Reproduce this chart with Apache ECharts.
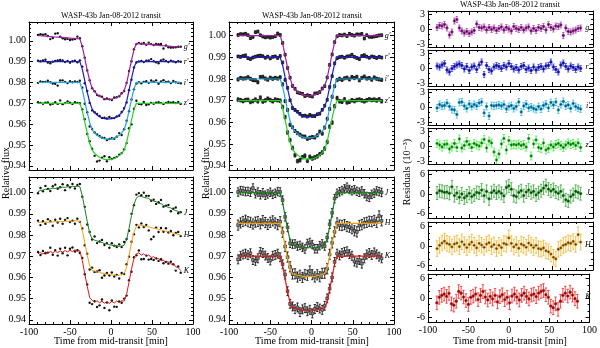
<!DOCTYPE html>
<html>
<head>
<meta charset="utf-8">
<script src="https://cdn.jsdelivr.net/npm/echarts@6/dist/echarts.min.js"></script>
<style>
  html, body { margin: 0; padding: 0; background: #fff; }
  #chart { width: 600px; height: 348px; }
</style>
</head>
<body>
<div id="chart"></div>
<script>
// time from mid-transit [min]
const T = [
  -89, -86, -83, -80, -77, -74, -71, -68, -65, -62,
  -59, -56, -53, -50, -47, -44, -41, -38, -35, -32,
  -29, -26, -23, -20, -17, -14, -11, -8, -5, -2,
  1, 4, 7, 10, 13, 16, 19, 22, 25, 28,
  31, 34, 37, 40, 43, 46, 49, 52, 55, 58,
  61, 64, 67, 70, 73, 76, 79, 82, 85
];

// transit models (relative flux, with offsets)
const gModel = [
  1, 1, 1, 1, 1, 1, 1, 1, 1, 1,
  1, 1, 1, 1, 1, 1, 1, 1, 0.9964, 0.9908,
  0.9853, 0.9803, 0.9769, 0.9753, 0.9741, 0.9733, 0.9728, 0.9723, 0.9722, 0.9722,
  0.9723, 0.9728, 0.9733, 0.9741, 0.9753, 0.9769, 0.9805, 0.9861, 0.9917, 0.9969,
  1, 1, 1, 1, 1, 1, 1, 1, 1, 1,
  1, 1, 1, 1, 1, 1, 1, 1, 1
];
const rModel = [
  0.99, 0.99, 0.99, 0.99, 0.99, 0.99, 0.99, 0.99, 0.99, 0.99,
  0.99, 0.99, 0.99, 0.99, 0.99, 0.99, 0.99, 0.99, 0.9864, 0.9809,
  0.9754, 0.9705, 0.9672, 0.9655, 0.9644, 0.9636, 0.9631, 0.9626, 0.9625, 0.9625,
  0.9626, 0.9631, 0.9636, 0.9644, 0.9655, 0.9672, 0.9707, 0.9763, 0.9818, 0.9870,
  0.99, 0.99, 0.99, 0.99, 0.99, 0.99, 0.99, 0.99, 0.99, 0.99,
  0.99, 0.99, 0.99, 0.99, 0.99, 0.99, 0.99, 0.99, 0.99
];
const iModel = [
  0.98, 0.98, 0.98, 0.98, 0.98, 0.98, 0.98, 0.98, 0.98, 0.98,
  0.98, 0.98, 0.98, 0.98, 0.98, 0.98, 0.98, 0.98, 0.9765, 0.9710,
  0.9656, 0.9607, 0.9574, 0.9558, 0.9547, 0.9539, 0.9533, 0.9529, 0.9528, 0.9528,
  0.9529, 0.9533, 0.9539, 0.9547, 0.9558, 0.9574, 0.9610, 0.9664, 0.9718, 0.9770,
  0.98, 0.98, 0.98, 0.98, 0.98, 0.98, 0.98, 0.98, 0.98, 0.98,
  0.98, 0.98, 0.98, 0.98, 0.98, 0.98, 0.98, 0.98, 0.98
];
const zModel = [
  0.97, 0.97, 0.97, 0.97, 0.97, 0.97, 0.97, 0.97, 0.97, 0.97,
  0.97, 0.97, 0.97, 0.97, 0.97, 0.97, 0.97, 0.97, 0.9665, 0.9611,
  0.9557, 0.9508, 0.9476, 0.9460, 0.9449, 0.9441, 0.9435, 0.9431, 0.9430, 0.9430,
  0.9431, 0.9435, 0.9441, 0.9449, 0.9460, 0.9476, 0.9511, 0.9565, 0.9619, 0.9670,
  0.97, 0.97, 0.97, 0.97, 0.97, 0.97, 0.97, 0.97, 0.97, 0.97,
  0.97, 0.97, 0.97, 0.97, 0.97, 0.97, 0.97, 0.97, 0.97
];
const jModel = [
  1, 1, 1, 1, 1, 1, 1, 1, 1, 1,
  1, 1, 1, 1, 1, 1, 1, 1, 0.9953, 0.9891,
  0.9828, 0.9776, 0.9753, 0.9748, 0.9745, 0.9743, 0.9740, 0.9740, 0.9740, 0.9740,
  0.9740, 0.9740, 0.9743, 0.9745, 0.9748, 0.9753, 0.9782, 0.9839, 0.9901, 0.9964,
  1, 1, 1, 1, 1, 1, 1, 1, 1, 1,
  1, 1, 1, 1, 1, 1, 1, 1, 1
];
const hModel = [
  0.9855, 0.9855, 0.9855, 0.9855, 0.9855, 0.9855, 0.9855, 0.9855, 0.9855, 0.9855,
  0.9855, 0.9855, 0.9855, 0.9855, 0.9855, 0.9855, 0.9855, 0.9855, 0.9810, 0.9750,
  0.9690, 0.9640, 0.9618, 0.9613, 0.9610, 0.9608, 0.9605, 0.9605, 0.9605, 0.9605,
  0.9605, 0.9605, 0.9608, 0.9610, 0.9613, 0.9618, 0.9645, 0.9700, 0.9760, 0.9820,
  0.9855, 0.9855, 0.9855, 0.9855, 0.9855, 0.9855, 0.9855, 0.9855, 0.9855, 0.9855,
  0.9855, 0.9855, 0.9855, 0.9855, 0.9855, 0.9855, 0.9855, 0.9855, 0.9855
];
const kModel = [
  0.97, 0.97, 0.97, 0.97, 0.97, 0.97, 0.97, 0.97, 0.97, 0.97,
  0.97, 0.97, 0.97, 0.97, 0.97, 0.97, 0.97, 0.97, 0.9654, 0.9593,
  0.9532, 0.9481, 0.9458, 0.9453, 0.9450, 0.9448, 0.9445, 0.9445, 0.9445, 0.9445,
  0.9445, 0.9445, 0.9448, 0.9450, 0.9453, 0.9458, 0.9486, 0.9542, 0.9603, 0.9664,
  0.97, 0.97, 0.97, 0.97, 0.97, 0.97, 0.97, 0.97, 0.97, 0.97,
  0.97, 0.97, 0.97, 0.97, 0.97, 0.97, 0.97, 0.97, 0.97
];

// residuals [10^-3]
const gRes = [
  0.3, 0.7, 0.6, 0.9, 0.2, -1.2, -0.6, 1.6, 1.9, 0.2,
  -0.4, -0.8, -0.5, -0.9, -0.6, -0.3, 1.0, 0.3, 0.2, 0.4,
  -0.2, 0.3, -0.1, 0.2, -0.3, 0.1, 0.4, -0.2, 0.3, 0.0,
  -0.4, 0.5, 0.1, -0.1, 0.3, -0.2, 0.2, 0.4, -0.4, 0.1,
  -0.3, 0.3, 0.1, 0.5, -0.2, 0.9, 0.3, 0.0, 0.6, 0.5,
  0.8, -1.3, 0.2, -0.5, -0.6, -0.4, -0.2, 0.1, 0.2
];
const rRes = [
  0.4, 0.2, 0.6, 0.9, -0.4, -0.8, -0.1, 0.3, 0.6, 0.8,
  0.5, -0.2, 0.3, -0.5, 0.2, 0.4, -0.3, 0.6, 1.2, -1.3,
  0.5, -0.3, -0.6, 0.2, 0.5, 0.3, -0.1, 0.5, 0.2, 0.9,
  0.3, -0.2, 0.1, -0.4, 0.3, 0.5, -0.3, 0.0, -0.5, 0.2,
  -0.4, 0.1, 0.3, -0.2, 0.4, 0.5, 1.2, 0.2, -0.3, -0.8,
  0.6, 1.0, 0.3, -0.2, 0.4, 0.1, -0.3, 0.2, -0.1
];
const iRes = [
  -0.2, 0.5, 0.2, 0.3, 0.8, 0.1, -0.5, -0.6, -1.5, 0.9,
  1.0, 0.2, -0.3, 0.6, 0.1, 0.5, 0.2, 0.8, 1.0, -1.2,
  0.1, -1.8, 0.3, 0.2, 0.3, 0.4, 0.2, 0.5, -0.4, 0.1,
  0.3, -0.3, 0.1, 1.0, -1.0, 0.2, 0.6, -0.2, 0.0, -0.3,
  -0.5, 0.1, -0.4, 0.3, 0.6, -0.2, 0.9, 0.4, 1.0, -0.6,
  0.5, 1.1, 0.2, 0.4, -0.3, 0.7, 0.1, -0.2, -0.4
];
const zRes = [
  0.5, 0.2, -0.2, 0.3, 0.4, -0.6, -0.2, 0.5, -0.3, 1.4,
  -0.4, 0.1, 0.9, 0.3, -0.3, 0.5, 0.2, 0.0, 0.6, 1.3,
  -0.4, 1.0, 0.6, -1.2, -2.8, -1.6, 0.4, 1.5, -0.8, 1.1,
  0.2, 0.3, 0.2, 0.4, 0.1, 0.3, -0.2, 1.5, -2.0, 0.4,
  1.2, -0.3, -0.5, 0.6, -0.8, -0.5, 0.2, -0.2, 0.3, 0.5,
  0.1, -0.3, 0.2, 0.6, 0.3, 0.5, 0.1, 0.6, -0.3
];
const jRes = [
  0.3, 1.0, 0.8, 0.5, 0.6, 0.2, 2.2, -0.5, 0.3, -1.0,
  0.0, -1.2, -0.6, 0.2, -0.8, -0.3, 0.5, 0.3, 1.2, -0.5,
  0.8, -1.5, 0.4, 1.0, 0.3, 0.8, 0.2, -0.6, 2.0, 2.5,
  1.5, -0.5, -0.8, 0.5, 1.0, -0.5, 0.6, 1.2, 0.4, 0.8,
  -0.3, 0.4, 1.0, 1.8, 2.6, 1.5, 0.9, 1.4, 0.6, 0.2,
  0.8, -0.5, -1.8, -2.2, -0.8, -0.2, 0.8, 0.5, 0.1
];
const hRes = [
  -0.8, 0.2, 0.9, 1.5, 0.8, 0.5, -0.3, 0.6, 0.9, -0.2,
  1.3, 0.4, -0.5, 0.5, 1.2, 0.2, -0.6, 0.8, 0.3, -0.4,
  0.6, 1.0, -0.2, 0.4, -0.8, 0.2, -0.5, 0.8, 0.5, 2.5,
  0.8, -0.3, 0.4, -0.7, 0.6, 0.2, -0.4, 0.9, 0.3, -0.5,
  0.2, -0.8, -1.0, -0.6, -1.5, -1.8, -2.5, -3.5, -4.0, -1.0,
  -0.6, 0.2, 0.5, 1.0, 0.8, 1.4, 0.5, 3.5, 1.2
];
const kRes = [
  -1.5, 0.2, 0.8, 1.2, 0.5, 1.4, -1.8, -2.2, -1.0, 2.0,
  1.5, 0.3, -0.8, -2.0, 0.2, 0.6, 1.2, -0.5, 0.8, 2.0,
  0.3, -0.6, 0.5, -0.3, 0.8, -1.2, 0.4, 1.0, -0.5, 0.2,
  -1.5, 0.6, 1.2, 0.3, -0.6, 0.8, 1.5, 0.5, -0.3, 0.9,
  1.2, 0.4, 1.5, 2.0, 2.3, 1.0, 0.2, -2.5, -3.0, -1.8,
  -3.5, -1.0, 0.8, 1.5, 0.6, 1.8, 0.9, -0.2, -1.0
];

// raw (undetrended) light curves of the left column
const gRawModel = [
  1.0025, 1.0024, 1.0023, 1.0022, 1.0021, 1.0020, 1.0019, 1.0018, 1.0017, 1.0017,
  1.0016, 1.0015, 1.0014, 1.0013, 1.0012, 1.0011, 1.0010, 1.0009, 0.9972, 0.9915,
  0.9859, 0.9808, 0.9773, 0.9756, 0.9743, 0.9734, 0.9728, 0.9722, 0.9720, 0.9719,
  0.9720, 0.9723, 0.9728, 0.9735, 0.9745, 0.9761, 0.9796, 0.9851, 0.9906, 0.9958,
  0.9987, 0.9986, 0.9985, 0.9984, 0.9983, 0.9982, 0.9981, 0.9980, 0.9979, 0.9978,
  0.9977, 0.9976, 0.9975, 0.9974, 0.9973, 0.9972, 0.9971, 0.9970, 0.9969
];
const jRawModel = [
  1.0005, 1.0010, 1.0012, 1.0016, 1.0014, 1.0019, 1.0021, 1.0020, 1.0024, 1.0023,
  1.0026, 1.0025, 1.0028, 1.0027, 1.0030, 1.0029, 1.0031, 1.0028, 0.9985, 0.9925,
  0.9865, 0.9808, 0.9782, 0.9776, 0.9772, 0.9768, 0.9765, 0.9760, 0.9758, 0.9754,
  0.9752, 0.9749, 0.9751, 0.9746, 0.9748, 0.9752, 0.9778, 0.9832, 0.9892, 0.9945,
  0.9975, 0.9984, 0.9982, 0.9978, 0.9976, 0.9972, 0.9965, 0.9960, 0.9958, 0.9950,
  0.9948, 0.9940, 0.9936, 0.9930, 0.9928, 0.9920, 0.9915, 0.9912, 0.9905
];
const hRawModel = [
  0.9858, 0.9861, 0.9859, 0.9862, 0.9860, 0.9863, 0.9861, 0.9864, 0.9862, 0.9865,
  0.9863, 0.9866, 0.9864, 0.9867, 0.9865, 0.9868, 0.9866, 0.9864, 0.9822, 0.9765,
  0.9705, 0.9655, 0.9633, 0.9630, 0.9626, 0.9624, 0.9620, 0.9619, 0.9615, 0.9614,
  0.9611, 0.9612, 0.9608, 0.9610, 0.9612, 0.9618, 0.9648, 0.9705, 0.9765, 0.9815,
  0.9842, 0.9848, 0.9845, 0.9843, 0.9840, 0.9838, 0.9835, 0.9832, 0.9830, 0.9827,
  0.9824, 0.9821, 0.9818, 0.9815, 0.9812, 0.9809, 0.9806, 0.9803, 0.9800
];
const kRawModel = [
  0.9712, 0.9718, 0.9710, 0.9720, 0.9714, 0.9722, 0.9716, 0.9724, 0.9717, 0.9725,
  0.9719, 0.9727, 0.9720, 0.9728, 0.9722, 0.9730, 0.9724, 0.9726, 0.9680, 0.9618,
  0.9558, 0.9505, 0.9492, 0.9482, 0.9490, 0.9480, 0.9488, 0.9478, 0.9486, 0.9477,
  0.9487, 0.9479, 0.9489, 0.9481, 0.9490, 0.9488, 0.9520, 0.9578, 0.9640, 0.9690,
  0.9712, 0.9716, 0.9705, 0.9712, 0.9700, 0.9706, 0.9694, 0.9698, 0.9686, 0.9690,
  0.9678, 0.9682, 0.9670, 0.9674, 0.9662, 0.9666, 0.9650, 0.9646, 0.9632
];
// scatter of raw NIR points about their curves [10^-3]
const jRawRes = [
  -0.8, 1.2, -0.5, 1.6, 0.4, -1.1, 0.9, 1.8, -0.6, 0.3,
  1.4, -1.3, 0.7, -0.2, 1.1, -0.9, 0.5, 1.3, -0.4, 0.8,
  -1.5, 0.6, -0.3, 1.7, -1.0, 0.2, 1.2, -0.7, 0.4, -1.4,
  0.9, 0.1, -0.8, 1.0, -0.5, 1.5, 0.3, -1.2, 0.8, -0.4,
  1.6, 1.4, 0.6, 2.2, 0.9, 1.3, -0.3, 0.7, -1.1, 0.5,
  1.8, -0.6, 0.2, 1.2, -1.6, 0.4, 1.5, -0.9, 0.3
];
const hRawRes = [
  1.0, -1.4, 0.6, -0.9, 1.5, 0.2, -1.7, 0.8, -0.3, 1.2,
  -1.0, 0.5, 1.6, -0.6, 0.3, -1.5, 1.1, -0.2, 0.9, -1.3,
  0.7, -1.8, 1.3, -0.4, 0.2, 1.0, -2.2, -1.0, 0.6, -0.5,
  1.2, -0.8, 0.4, -1.5, 0.9, -0.2, 1.4, -0.7, 0.3, -1.1,
  0.6, -1.2, 1.0, -0.5, 0.8, -1.6, -5.5, -4.0, 0.5, -1.3,
  0.9, -0.6, 1.4, -0.3, 0.7, -1.0, 0.4, 1.1, -0.5
];
const kRawRes = [
  0.8, -1.2, 1.5, -0.6, 0.3, 1.8, -0.9, 0.5, -1.4, 1.0,
  -0.5, 1.3, -1.6, 0.7, 1.9, -0.8, 0.4, -1.1, 1.2, -0.3,
  0.9, -2.5, -1.8, 0.6, -3.0, -1.2, 0.8, -2.2, -0.5, -3.2,
  0.4, -1.7, -2.8, 0.6, -1.0, 1.2, -0.6, 0.9, -1.3, 0.5,
  -0.8, 1.1, -1.9, -2.5, 0.3, -2.2, -0.7, -1.6, 0.4, -1.2,
  0.8, -1.5, 0.3, -0.9, 1.2, -0.4, -1.8, 0.6, -1.0
];

// error bars [10^-3]
const optErr = [0.6, 0.6, 0.7, 0.8];
const nirErr = [2.0, 2.4, 2.1];

const optNames = ["g'", "r'", "i'", "z'"];
const nirNames = ["J", "H", "K"];
const yFlux = [0.94, 0.95, 0.96, 0.97, 0.98, 0.99, 1.00];
const yResOpt = [-3, 0, 3];
const yResNir = [-6, 0, 6];
const title = "WASP-43b Jan-08-2012 transit";

// colours
const optLine = ["#a020a0", "#1c1cd0", "#22a8e0", "#22d022"];
const nirLine = ["#1c801c", "#f0a010", "#e01818"];
const optBar = ["#b848b8", "#3a3af0", "#38bcf0", "#48f048"];
const optDot = ["#501050", "#101070", "#10506c", "#106010"];
const nirBar = ["#38a838", "#f4b428", "#f02424"];
const nirDot = ["#0c400c", "#5c3c0c", "#6c1010"];

const serif = "'Liberation Serif', 'DejaVu Serif', serif";

const grids = [];
const xAxes = [];
const yAxes = [];
const series = [];
const graphics = [];

function steps(min, max, step, skip) {
  const out = [];
  for (let k = Math.ceil(min / step - 1e-9); k * step <= max + 1e-9; k++) {
    const v = Math.round(k * step * 1e6) / 1e6;
    if (!skip.some((s) => Math.abs(s - v) < 1e-9)) out.push(v);
  }
  return out;
}

function addPanel(box, xLabels, yMin, yMax, major, minorStep, fmt) {
  const gi = grids.length;
  grids.push(box);
  const xi = xAxes.length;
  for (const pos of ["bottom", "top"]) {
    xAxes.push({
      type: "value", gridIndex: gi, position: pos, min: -100, max: 100, interval: 50,
      axisLine: { show: true, onZero: false, lineStyle: { color: "#000", width: 1 } },
      axisTick: { show: true, inside: true, length: 4, lineStyle: { color: "#000" } },
      minorTick: { show: true, splitNumber: 5, length: 2, lineStyle: { color: "#000" } },
      axisLabel: { show: xLabels && pos === "bottom", color: "#000", fontFamily: serif, fontSize: 10, margin: 3 },
      splitLine: { show: false },
    });
  }
  const yi = yAxes.length;
  const minor = steps(yMin, yMax, minorStep, major);
  for (const pos of ["left", "right"]) {
    for (const isMajor of [true, false]) {
      const ticks = isMajor ? major : minor;
      yAxes.push({
        type: "value", gridIndex: gi, position: pos, min: yMin, max: yMax,
        axisLine: { show: isMajor, onZero: false, lineStyle: { color: "#000", width: 1 } },
        axisTick: { show: true, inside: true, length: isMajor ? 4 : 2, customValues: ticks, lineStyle: { color: "#000" } },
        axisLabel: {
          show: isMajor && pos === "left", customValues: ticks, formatter: fmt,
          color: "#000", fontFamily: serif, fontSize: 10, margin: 3,
        },
        splitLine: { show: false },
      });
    }
  }
  return { xi, yi, box };
}

const fluxFmt = (v) => v.toFixed(2);
const resFmt = (v) => String(v);

const pts = (vals) => T.map((t, i) => [t, vals[i]]);
const withRes = (model, res, scale) => T.map((t, i) => [t, model[i] + res[i] * scale]);
const withErr = (model, res, scale, err) => T.map((t, i) => [t, model[i] + res[i] * scale, err * scale]);

function dots(p, data, color, size, symbol, border) {
  series.push({
    type: "scatter", xAxisIndex: p.xi, yAxisIndex: p.yi, data,
    symbol: symbol || "circle", symbolSize: size, silent: true,
    itemStyle: { color, borderColor: border || color, borderWidth: border ? 0.5 : 0, opacity: 1 },
  });
}

function curve(p, data, color, name, width) {
  series.push({
    type: "line", xAxisIndex: p.xi, yAxisIndex: p.yi, data, showSymbol: false, silent: true,
    lineStyle: { color, width: width || 1.2 },
    endLabel: name ? {
      show: true, formatter: () => name, distance: 3, color: "#000",
      fontFamily: serif, fontStyle: "italic", fontSize: 8,
    } : { show: false },
  });
}

function bars(p, data, color) {
  series.push({
    type: "custom", xAxisIndex: p.xi, yAxisIndex: p.yi, data, silent: true, clip: true,
    encode: { x: 0, y: 1 },
    renderItem: (params, api) => {
      const x = api.value(0), y = api.value(1), e = api.value(2);
      const a = api.coord([x, y + e]);
      const b = api.coord([x, y - e]);
      const style = { stroke: color, lineWidth: 0.8 };
      return {
        type: "group",
        children: [
          { type: "line", shape: { x1: a[0], y1: a[1], x2: b[0], y2: b[1] }, style },
          { type: "line", shape: { x1: a[0] - 1.2, y1: a[1], x2: a[0] + 1.2, y2: a[1] }, style },
          { type: "line", shape: { x1: b[0] - 1.2, y1: b[1], x2: b[0] + 1.2, y2: b[1] }, style },
        ],
      };
    },
  });
}

function text(x, y, str, size, rot, italic) {
  graphics.push({
    type: "text", x, y, rotation: rot || 0, silent: true,
    style: {
      text: str, fill: "#000", fontFamily: serif, fontSize: size, fontStyle: italic ? "italic" : "normal",
      align: "center", verticalAlign: "middle", textAlign: "center", textVerticalAlign: "middle",
    },
  });
}

const optModels = [gModel, rModel, iModel, zModel];
const optRes = [gRes, rRes, iRes, zRes];
const nirModels = [jModel, hModel, kModel];
const nirRes = [jRes, hRes, kRes];
const nirRawModels = [jRawModel, hRawModel, kRawModel];
const nirRawRes = [jRawRes, hRawRes, kRawRes];

// left column: raw light curves
const pLT = addPanel({ left: 29, top: 22, width: 164, height: 148 }, false, 0.938, 1.009, yFlux, 0.002, fluxFmt);
const pLB = addPanel({ left: 29, top: 177, width: 164, height: 147 }, true, 0.938, 1.0074, yFlux, 0.002, fluxFmt);
optModels.forEach((m, k) => {
  const model = k === 0 ? gRawModel : m;
  dots(pLT, withRes(model, optRes[k], 0.001), "#111", 2.4);
  curve(pLT, pts(model), optLine[k], optNames[k]);
});
nirRawModels.forEach((m, k) => {
  dots(pLB, withRes(m, nirRawRes[k], 0.001), "#111", 2.4);
  curve(pLB, pts(m), nirLine[k], nirNames[k], 1);
});

// middle column: detrended light curves
const pMT = addPanel({ left: 229, top: 22, width: 165, height: 148 }, false, 0.938, 1.0063, yFlux, 0.002, fluxFmt);
const pMB = addPanel({ left: 229, top: 177, width: 165, height: 147 }, true, 0.938, 1.0074, yFlux, 0.002, fluxFmt);
optModels.forEach((m, k) => {
  bars(pMT, withErr(m, optRes[k], 0.001, optErr[k]), "#000");
  dots(pMT, withRes(m, optRes[k], 0.001), "#333", 2.4, "rect", "#000");
  curve(pMT, pts(m), optLine[k], optNames[k]);
});
nirModels.forEach((m, k) => {
  bars(pMB, withErr(m, nirRes[k], 0.001, nirErr[k]), "#000");
  dots(pMB, withRes(m, nirRes[k], 0.001), "#8a8a8a", 2.8, "rect", "#000");
  curve(pMB, pts(m), nirLine[k], nirNames[k]);
});

// right column: residuals
const rTops = [11, 50, 89, 128, 170, 222, 274];
const zeros = T.map(() => 0);
rTops.forEach((top, k) => {
  const isOpt = k < 4;
  const j = isOpt ? k : k - 4;
  const box = { left: 428, top, width: 165, height: isOpt ? 36 : 48 };
  const lim = isOpt ? 3.6 : 7.4;
  const p = addPanel(box, k === 6, -lim, lim, isOpt ? yResOpt : yResNir, isOpt ? 1 : 2, resFmt);
  const res = isOpt ? optRes[j] : nirRes[j];
  bars(p, withErr(zeros, res, 1, isOpt ? optErr[j] : nirErr[j]), isOpt ? optBar[j] : nirBar[j]);
  dots(p, pts(res), isOpt ? optDot[j] : nirDot[j], 2.8, "circle", isOpt ? optBar[j] : nirBar[j]);
  text(box.left + box.width - 5, top + box.height / 2 - 1, isOpt ? optNames[j] : nirNames[j], 8, 0, true);
});

// titles and axis names
text(111, 16, title, 8);
text(312, 16, title, 8);
text(510, 5, title, 8);
text(111, 341, "Time from mid-transit [min]", 10);
text(312, 341, "Time from mid-transit [min]", 10);
text(510, 341, "Time from mid-transit [min]", 10);
text(6, 173, "Relative flux", 10, Math.PI / 2);
text(206, 173, "Relative flux", 10, Math.PI / 2);
text(407, 172, "Residuals (10\u207B\u00B3)", 10, Math.PI / 2);

const chart = echarts.init(document.getElementById("chart"), null, { renderer: "canvas" });
chart.setOption({
  animation: false,
  backgroundColor: "#fff",
  grid: grids,
  xAxis: xAxes,
  yAxis: yAxes,
  series,
  graphic: graphics,
});
</script>
</body>
</html>
